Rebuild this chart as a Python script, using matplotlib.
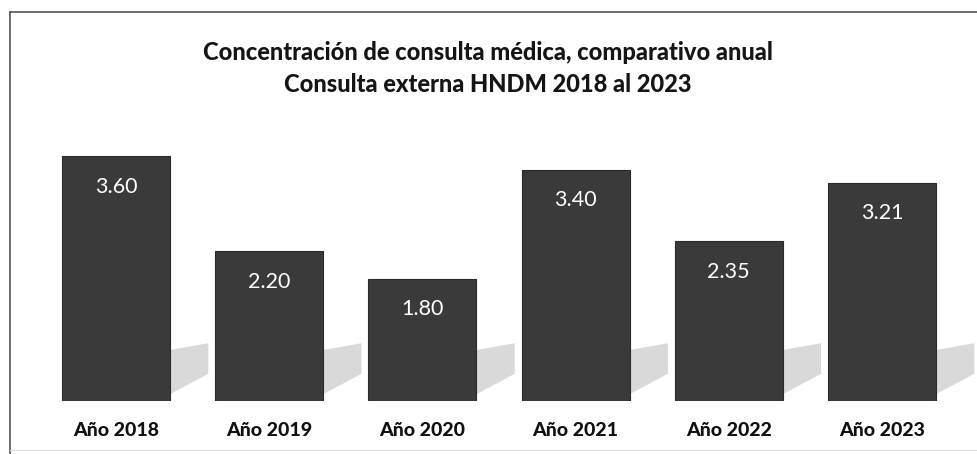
import matplotlib.pyplot as plt
from matplotlib.lines import Line2D
from matplotlib.patches import Polygon

# data
years = ["Año 2018", "Año 2019", "Año 2020", "Año 2021", "Año 2022", "Año 2023"]
values = [3.60, 2.20, 1.80, 3.40, 2.35, 3.21]
value_labels = ["3.60", "2.20", "1.80", "3.40", "2.35", "3.21"]

title1 = "Concentración de consulta médica, comparativo anual"
title2 = "Consulta externa HNDM 2018 al 2023"

plt.rcParams["font.family"] = ["Lato", "DejaVu Sans"]

fig = plt.figure(figsize=(9.77, 4.54), dpi=100)
fig.patch.set_facecolor("white")

ax = fig.add_axes([0, (454 - 401) / 454, 1, (401 - 12) / 454])
ax.set_facecolor("none")
x = list(range(len(years)))
w = 0.705
bars = ax.bar(x, values, width=w, color="#3a3a3a", edgecolor="#2a2a2a", linewidth=0.8, zorder=3)

# light grey reflections to the right of each bar
for i, b in enumerate(bars):
    r = b.get_x() + b.get_width()
    shadow = Polygon([(r, 0.1), (r, 0.75), (r + 0.25, 0.85), (r + 0.25, 0.4)],
                     closed=True, facecolor="#cdcdcd", edgecolor="none", alpha=0.75, zorder=2)
    ax.add_patch(shadow)

for i, v in enumerate(values):
    ax.text(x[i], v - 0.45, value_labels[i], ha="center", va="center",
            color="white", fontsize=15.5)

ax.set_xlim(-116 / 153.2, (977 - 116) / 153.2)
ax.set_ylim(0, 389 / 68)
ax.axis("off")

for i, name in enumerate(years):
    fig.text((116 + 153.2 * i) / 977, 1 - 431 / 454, name, ha="center", va="center",
             fontsize=14, fontweight="black", color="#111111")

fig.text(488 / 977, 1 - 52 / 454, title1, ha="center", va="center",
         fontsize=17, fontweight="black", color="#151515")
fig.text(488 / 977, 1 - 84 / 454, title2, ha="center", va="center",
         fontsize=17, fontweight="black", color="#151515")

# chart frame
fig.add_artist(Line2D([10 / 977, 1], [1 - 12 / 454, 1 - 12 / 454], color="#555555", lw=1.2))
fig.add_artist(Line2D([10 / 977, 10 / 977], [0, 1 - 12 / 454], color="#555555", lw=1.2))
fig.add_artist(Line2D([10 / 977, 1], [1 - 450 / 454, 1 - 450 / 454], color="#dddddd", lw=0.8))

fig.savefig("out.png", dpi=100, facecolor="white")
